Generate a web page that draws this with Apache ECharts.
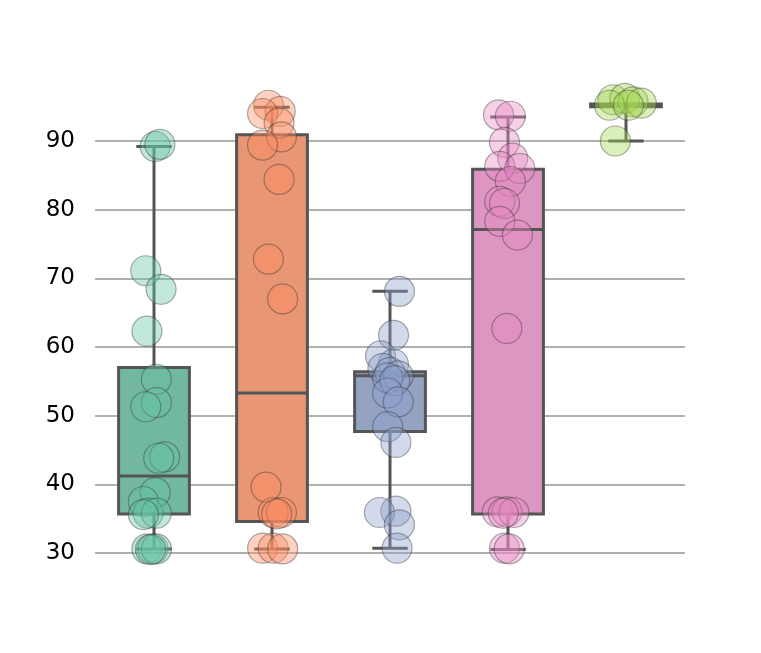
<!DOCTYPE html>
<html>
<head>
<meta charset="utf-8">
<script src="https://cdn.jsdelivr.net/npm/echarts@6/dist/echarts.min.js"></script>
<style>
  html, body { margin: 0; padding: 0; background: #fff; }
  #chart { width: 761px; height: 653px; }
</style>
</head>
<body>
<div id="chart"></div>
<script>
// box statistics per group
const whiskerLow = [30.6, 30.6, 30.7, 30.5, 90.0];
const q1 = [35.7, 34.6, 47.7, 35.7, 95.0];
const median = [41.2, 53.3, 55.8, 77.1, 95.2];
const q3 = [57.0, 90.9, 56.4, 85.9, 95.4];
const whiskerHigh = [89.2, 94.9, 68.1, 93.5, 95.4];

// strip points: values and horizontal jitter (category units)
const values1 = [89.2, 89.5, 71.1, 68.4, 62.3, 55.3, 51.9, 51.3, 44.0, 43.8, 38.8, 37.5, 35.8, 35.8, 35.6, 30.6, 30.6, 30.6, 30.5];
const jitter1 = [0.01, 0.05, -0.07, 0.06, -0.06, 0.02, 0.02, -0.07, 0.09, 0.04, 0.01, -0.09, -0.05, 0.02, -0.09, -0.06, -0.01, 0.02, -0.03];
const values2 = [95.2, 94.3, 94.0, 92.6, 90.6, 89.4, 84.4, 72.8, 67.0, 39.6, 35.9, 35.9, 35.7, 30.7, 30.7, 30.6];
const jitter2 = [-0.03, 0.07, -0.08, 0.06, 0.08, -0.08, 0.06, -0.03, 0.09, -0.05, 0.01, 0.08, 0.04, -0.08, 0.01, 0.09];
const values3 = [68.1, 61.7, 58.7, 57.5, 56.9, 56.3, 55.8, 55.5, 55.1, 53.3, 52.0, 48.4, 46.1, 36.1, 35.9, 34.1, 30.7];
const jitter3 = [0.08, 0.03, -0.08, 0.03, -0.06, 0.0, 0.07, -0.02, 0.04, -0.02, 0.07, -0.02, 0.05, 0.05, -0.09, 0.08, 0.06];
const values4 = [93.8, 93.6, 89.8, 87.5, 86.3, 86.0, 84.1, 81.2, 80.9, 78.3, 76.3, 62.7, 36.0, 36.0, 35.9, 35.8, 30.7, 30.6];
const jitter4 = [-0.08, 0.02, -0.03, 0.04, -0.07, 0.10, 0.02, -0.07, -0.03, -0.07, 0.08, -0.01, -0.09, -0.01, 0.05, -0.04, -0.03, 0.01];
const values5 = [96.0, 96.2, 95.7, 95.5, 95.2, 95.2, 90.0];
const jitter5 = [-0.11, -0.01, 0.06, 0.13, -0.14, 0.02, -0.09];

const yTicks = [20, 30, 40, 50, 60, 70, 80, 90, 100];

const pointColors = ['rgba(102,194,165,0.5)', 'rgba(252,141,98,0.5)', 'rgba(141,160,203,0.5)', 'rgba(231,138,195,0.5)', 'rgba(166,216,84,0.5)'];
const boxColors = ['#72b7a1', '#e99675', '#95a3c3', '#dc96c1', '#a2c764'];
const lineColor = '#555555';

const allValues = [values1, values2, values3, values4, values5];
const allJitter = [jitter1, jitter2, jitter3, jitter4, jitter5];

const boxData = whiskerLow.map((w, i) => [i, w, q1[i], median[i], q3[i], whiskerHigh[i]]);

const scatterSeries = allValues.map((vals, g) => ({
    type: 'scatter',
    z: 5,
    symbolSize: 30,
    itemStyle: {
        color: pointColors[g],
        borderColor: 'rgba(50,50,50,0.5)',
        borderWidth: 1.2
    },
    data: vals.map((v, k) => [g + allJitter[g][k], v])
}));

function renderBox(params, api) {
    const x = api.value(0);
    const lo = api.coord([x, api.value(1)]);
    const b1 = api.coord([x - 0.3, api.value(2)]);
    const b2 = api.coord([x + 0.3, api.value(4)]);
    const med = api.value(3);
    const hi = api.coord([x, api.value(5)]);
    const m1 = api.coord([x - 0.3, med]);
    const m2 = api.coord([x + 0.3, med]);
    const c1 = api.coord([x - 0.15, 0])[0];
    const c2 = api.coord([x + 0.15, 0])[0];
    const st = { stroke: lineColor, lineWidth: 3 };
    return {
        type: 'group',
        children: [
            { type: 'line', shape: { x1: lo[0], y1: lo[1], x2: lo[0], y2: b1[1] }, style: st },
            { type: 'line', shape: { x1: hi[0], y1: hi[1], x2: hi[0], y2: b2[1] }, style: st },
            { type: 'line', shape: { x1: c1, y1: lo[1], x2: c2, y2: lo[1] }, style: st },
            { type: 'line', shape: { x1: c1, y1: hi[1], x2: c2, y2: hi[1] }, style: st },
            {
                type: 'rect',
                shape: { x: b1[0], y: b2[1], width: b2[0] - b1[0], height: b1[1] - b2[1] },
                style: { fill: boxColors[params.dataIndex], stroke: lineColor, lineWidth: 3 }
            },
            { type: 'line', shape: { x1: m1[0], y1: m1[1], x2: m2[0], y2: m2[1] }, style: st }
        ]
    };
}

const chart = echarts.init(document.getElementById('chart'));
chart.setOption({
    animation: false,
    backgroundColor: '#ffffff',
    grid: { left: 95, right: 76, top: 72.3, bottom: 31.3 },
    xAxis: {
        type: 'value',
        min: -0.5,
        max: 4.5,
        show: false
    },
    yAxis: {
        type: 'value',
        min: yTicks[0],
        max: yTicks[yTicks.length - 1],
        interval: 10,
        axisLine: { show: false },
        axisTick: { show: false },
        axisLabel: {
            showMinLabel: false,
            showMaxLabel: false,
            margin: 20,
            color: '#000',
            fontFamily: 'DejaVu Sans',
            fontSize: 23
        },
        splitLine: {
            show: true,
            lineStyle: {
                color: yTicks.map((t, i) => (i === 0 || i === yTicks.length - 1) ? 'rgba(0,0,0,0)' : '#b0b0b0'),
                width: 1.8
            }
        }
    },
    series: [{
        type: 'custom',
        z: 2,
        renderItem: renderBox,
        encode: { x: 0, y: [1, 2, 3, 4, 5] },
        data: boxData
    }].concat(scatterSeries)
});
</script>
</body>
</html>
